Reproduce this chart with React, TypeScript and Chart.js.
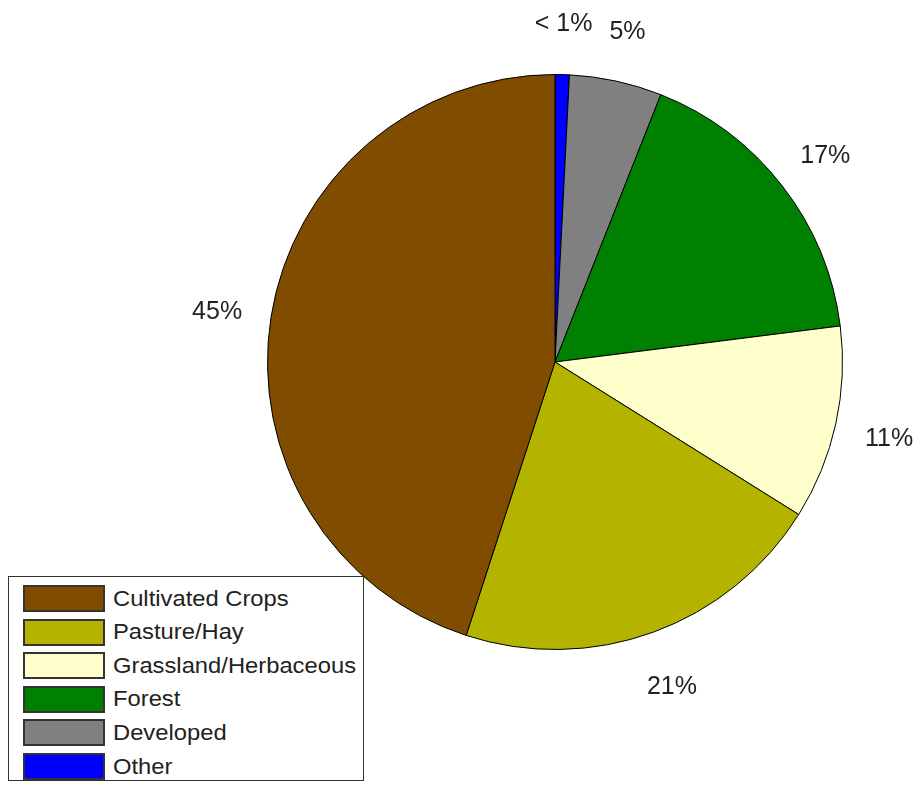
import React, { useEffect, useRef } from "react";
import { Chart, registerables } from "chart.js";

Chart.register(...registerables);

// Legend order (as in the reference legend)
const categories = ["Cultivated Crops", "Pasture/Hay", "Grassland/Herbaceous", "Forest", "Developed", "Other"];
const shares = [45.0, 21.1, 10.9, 17.0, 5.2, 0.8];
const pctLabels = ["45%", "21%", "11%", "17%", "5%", "< 1%"];
const colors = ["#7f4c00", "#b3b300", "#ffffcc", "#008000", "#808080", "#0000ff"];

// Chart.js draws clockwise from the top; the reference runs counter-clockwise, so reverse.
const drawCats = [...categories].reverse();
const drawVals = [...shares].reverse();
const drawLabels = [...pctLabels].reverse();
const drawColors = [...colors].reverse();

const FONT = '"Liberation Sans", Arial, sans-serif';

const pctPlugin = {
  id: "pctLabels",
  afterDraw(chart: any) {
    const ctx = chart.ctx;
    const meta = chart.getDatasetMeta(0);
    ctx.save();
    ctx.font = `25px ${FONT}`;
    ctx.fillStyle = "#222";
    ctx.textAlign = "center";
    ctx.textBaseline = "middle";
    meta.data.forEach((arc: any, i: number) => {
      const { x, y, startAngle, endAngle, outerRadius } = arc.getProps(
        ["x", "y", "startAngle", "endAngle", "outerRadius"],
        true
      );
      const mid = (startAngle + endAngle) / 2;
      const r = outerRadius * 1.19;
      ctx.fillText(drawLabels[i], x + r * Math.cos(mid), y + r * Math.sin(mid) + 4);
    });
    ctx.restore();
  },
};

export default function App() {
  const ref = useRef<HTMLCanvasElement | null>(null);
  useEffect(() => {
    if (!ref.current) return;
    const chart = new Chart(ref.current, {
      type: "pie",
      data: {
        labels: drawCats,
        datasets: [
          {
            data: drawVals,
            backgroundColor: drawColors,
            borderColor: "#000",
            borderWidth: 1,
          },
        ],
      },
      options: {
        responsive: false,
        animation: false,
        layout: { padding: { left: 267, right: 75, top: 74, bottom: 135 } },
        plugins: { legend: { display: false }, tooltip: { enabled: false } },
      },
      plugins: [pctPlugin],
    });
    return () => chart.destroy();
  }, []);

  return (
    <div style={{ position: "absolute", left: 0, top: 0, width: 918, height: 785, background: "#fff", overflow: "hidden" }}>
      <canvas ref={ref} width={918} height={785} style={{ position: "absolute", left: 0, top: 0 }} />
      <div
        style={{
          position: "absolute",
          left: 8,
          top: 576,
          width: 354,
          height: 203,
          border: "1px solid #333",
          background: "#fff",
          fontFamily: FONT,
          fontSize: 22,
          color: "#222",
        }}
      >
        {categories.map((c, i) => (
          <div key={c} style={{ position: "absolute", left: 14, top: 8 + i * 33.6, height: 27, display: "flex", alignItems: "center" }}>
            <div style={{ width: 78, height: 23, background: colors[i], border: "2px solid #333", boxSizing: "content-box" }} />
            <span
              style={{
                marginLeft: 8,
                whiteSpace: "nowrap",
                display: "inline-block",
                transform: "scaleX(1.08)",
                transformOrigin: "left center",
              }}
            >
              {c}
            </span>
          </div>
        ))}
      </div>
    </div>
  );
}
